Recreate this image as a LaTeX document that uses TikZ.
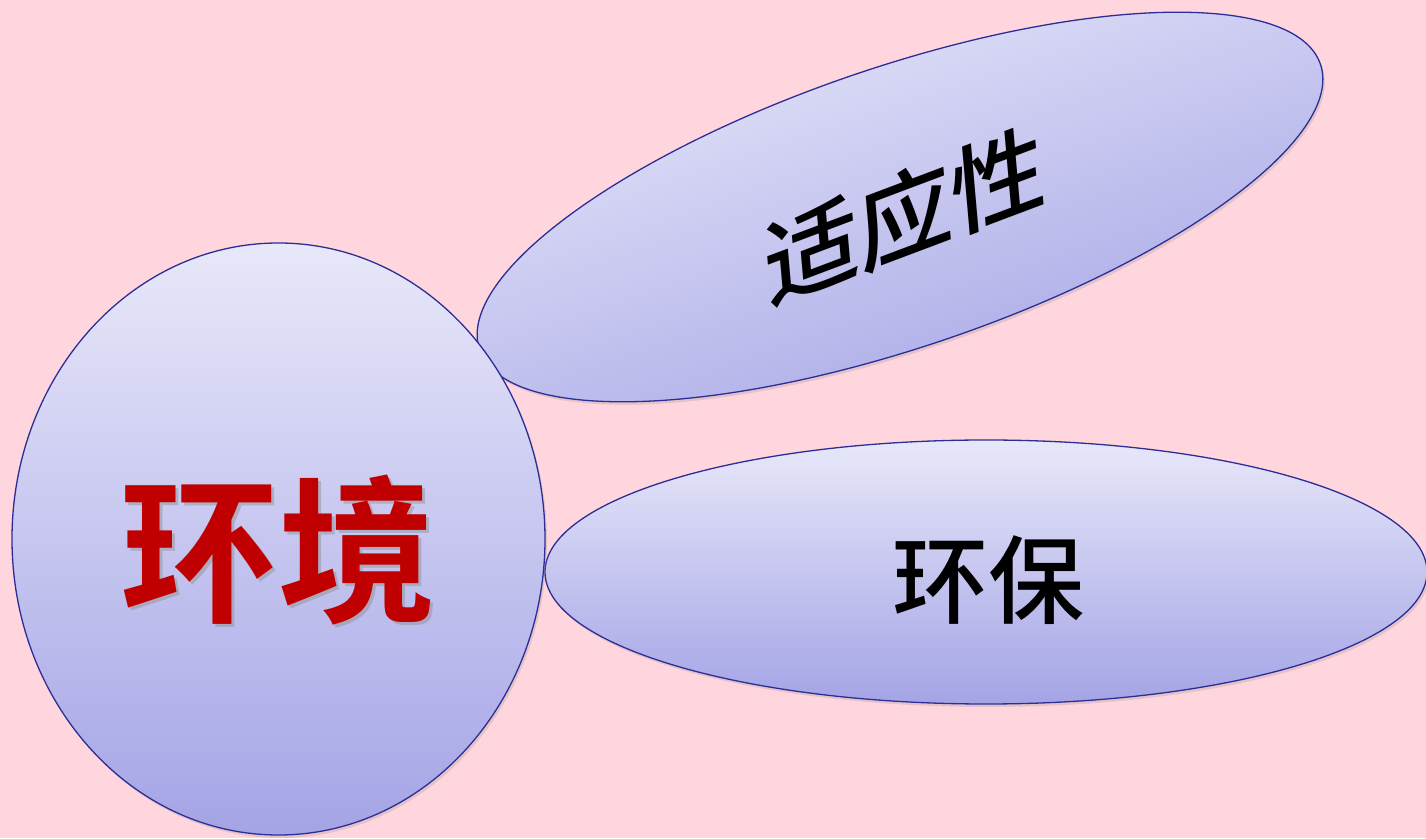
\documentclass[tikz,border=0pt]{standalone}
\usepackage{fontspec}
\newfontfamily\cjk{Noto Sans CJK SC}[UprightFont=* Medium, BoldFont=* Bold]
\usetikzlibrary{shapes.geometric,shadows}
\definecolor{bgpink}{RGB}{255,214,222}
\definecolor{elltop}{RGB}{232,232,250}
\definecolor{ellbot}{RGB}{164,164,230}
\definecolor{ellline}{RGB}{44,46,150}
\definecolor{txtred}{RGB}{192,0,0}
\tikzset{
  bubble/.style={ellipse, draw=ellline, line width=1.3pt, top color=elltop, bottom color=ellbot,
    inner sep=0pt, drop shadow={opacity=0.22, shadow xshift=2pt, shadow yshift=-3pt}},
  bigtext/.style={font=\cjk\bfseries\fontsize{158}{160}\selectfont},
  midtext/.style={font=\cjk\fontsize{96}{100}\selectfont, text=black}
}
\begin{document}
\begin{tikzpicture}[x=1pt,y=1pt]
\fill[bgpink] (0,0) rectangle (1426,838);
\useasboundingbox (0,0) rectangle (1426,838);
\node[bubble, minimum width=888pt, minimum height=280pt, rotate=18.75, shading angle=18.75] (adapt) at (900,631) {};
\node[bubble, minimum width=882pt, minimum height=264pt] (prot) at (986,266) {};
\node[bubble, minimum width=533pt, minimum height=592pt] (env) at (278.5,299) {};
\node[bigtext, text=black!45, opacity=0.45] (envs) at (281,285) {环境};
\node[bigtext, text=txtred] (envt) at (278,288) {环境};
\node[midtext] (prott) at (988,258) {环保};
\node[midtext, rotate=5, yslant=0.28] (adaptt) at (905,623) {适应性};
\end{tikzpicture}
\end{document}
